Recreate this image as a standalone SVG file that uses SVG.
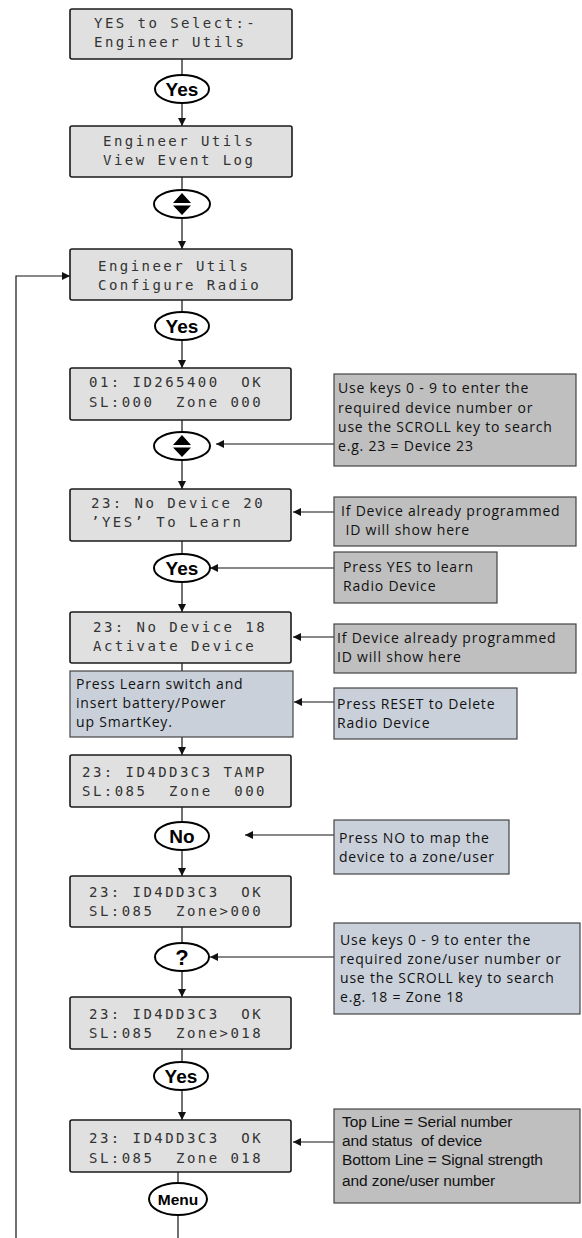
<svg xmlns="http://www.w3.org/2000/svg" width="582" height="1238" viewBox="0 0 582 1238" xml:space="preserve">
<defs>
<marker id="ah" viewBox="0 0 8 8" refX="8" refY="4" markerWidth="8" markerHeight="8" markerUnits="userSpaceOnUse" orient="auto"><path d="M0,0 L8,4 L0,8 z" fill="#111"/></marker>
<style>
text{white-space:pre}
.lcd{fill:#e0e0e0;stroke:#1a1a1a;stroke-width:1.6}
.lt{font-family:"DejaVu Sans Mono","Liberation Mono",monospace;font-size:14px;letter-spacing:2.45px;fill:#333}
.btn{fill:#fff;stroke:#000;stroke-width:2}
.bt{font-family:"Liberation Sans",Arial,sans-serif;font-weight:bold;font-size:19px;fill:#000;text-anchor:middle}
.ng{fill:#bfbfbf;stroke:#444;stroke-width:1.2}
.nb{fill:#c9d0da;stroke:#444;stroke-width:1.2}
.nt{font-family:"Open Sans","Noto Sans",sans-serif;font-size:14px;letter-spacing:0.8px;fill:#111}
.na{font-family:"Liberation Sans",Arial,sans-serif;font-size:15.5px;letter-spacing:-0.1px;fill:#111}
.c{fill:none;stroke:#111;stroke-width:1.2}
</style>
</defs>
<g id="connectors">
<line class="c" x1="182" y1="59" x2="182" y2="75"/>
<line class="c" x1="182" y1="103" x2="182" y2="126" marker-end="url(#ah)"/>
<line class="c" x1="182" y1="177" x2="182" y2="190"/>
<line class="c" x1="182" y1="218" x2="182" y2="249" marker-end="url(#ah)"/>
<line class="c" x1="182" y1="300" x2="182" y2="312"/>
<line class="c" x1="182" y1="340" x2="182" y2="368" marker-end="url(#ah)"/>
<line class="c" x1="182" y1="420" x2="182" y2="432"/>
<line class="c" x1="182" y1="460" x2="182" y2="489" marker-end="url(#ah)"/>
<line class="c" x1="182" y1="541" x2="182" y2="554"/>
<line class="c" x1="182" y1="582" x2="182" y2="612" marker-end="url(#ah)"/>
<line class="c" x1="182" y1="663" x2="182" y2="671"/>
<line class="c" x1="182" y1="737" x2="182" y2="755" marker-end="url(#ah)"/>
<line class="c" x1="182" y1="807" x2="182" y2="822"/>
<line class="c" x1="182" y1="850" x2="182" y2="876" marker-end="url(#ah)"/>
<line class="c" x1="182" y1="927" x2="182" y2="943"/>
<line class="c" x1="182" y1="971" x2="182" y2="997" marker-end="url(#ah)"/>
<line class="c" x1="182" y1="1049" x2="182" y2="1062"/>
<line class="c" x1="182" y1="1090" x2="182" y2="1120" marker-end="url(#ah)"/>
<line class="c" x1="178" y1="1172" x2="178" y2="1183"/>
<line class="c" x1="178" y1="1215" x2="178" y2="1238"/>
<polyline class="c" points="16,1238 16,276 70,276" marker-end="url(#ah)"/>
<line class="c" x1="334" y1="444" x2="216" y2="444" marker-end="url(#ah)"/>
<line class="c" x1="334" y1="512" x2="293" y2="512" marker-end="url(#ah)"/>
<line class="c" x1="334" y1="568" x2="210" y2="568" marker-end="url(#ah)"/>
<line class="c" x1="334" y1="637" x2="293" y2="637" marker-end="url(#ah)"/>
<line class="c" x1="334" y1="702" x2="294" y2="702" marker-end="url(#ah)"/>
<line class="c" x1="334" y1="835" x2="245" y2="835" marker-end="url(#ah)"/>
<line class="c" x1="334" y1="957" x2="210" y2="957" marker-end="url(#ah)"/>
<line class="c" x1="334" y1="1142" x2="293" y2="1142" marker-end="url(#ah)"/>
</g>
<g id="lcd1"><rect class="lcd" x="70" y="9" width="222" height="50" rx="2"/><text class="lt" x="94" y="28">YES to Select:-</text><text class="lt" x="94" y="47">Engineer Utils</text></g>
<g id="btn1"><ellipse class="btn" cx="182" cy="89" rx="27" ry="14"/><text class="bt" x="182" y="96">Yes</text></g>
<g id="lcd2"><rect class="lcd" x="70" y="126" width="222" height="51" rx="2"/><text class="lt" x="103" y="146">Engineer Utils</text><text class="lt" x="103" y="165">View Event Log</text></g>
<g id="scroll1"><ellipse class="btn" cx="182" cy="204" rx="28" ry="14"/><path d="M173,203 L191,203 L182,193 z M173,205.5 L191,205.5 L182,215 z" fill="#000"/></g>
<g id="lcd3"><rect class="lcd" x="70" y="249" width="222" height="51" rx="2"/><text class="lt" x="98" y="271">Engineer Utils</text><text class="lt" x="98" y="290">Configure Radio</text></g>
<g id="btn2"><ellipse class="btn" cx="182" cy="326" rx="27" ry="14"/><text class="bt" x="182" y="333">Yes</text></g>
<g id="lcd4"><rect class="lcd" x="70" y="368" width="221" height="52" rx="2"/><text class="lt" x="89" y="387">01: ID265400  OK</text><text class="lt" x="89" y="407">SL:000  Zone 000</text></g>
<g id="scroll2"><ellipse class="btn" cx="182" cy="446" rx="28" ry="14"/><path d="M173,445 L191,445 L182,435 z M173,447.5 L191,447.5 L182,457 z" fill="#000"/></g>
<g id="note1"><rect class="ng" x="334" y="374" width="242" height="92"/><text class="nt" x="338" y="393">Use keys 0 - 9 to enter the</text><text class="nt" x="338" y="413">required device number or</text><text class="nt" x="338" y="432">use the SCROLL key to search</text><text class="nt" x="338" y="451">e.g. 23 = Device 23</text></g>
<g id="lcd5"><rect class="lcd" x="70" y="489" width="221" height="52" rx="2"/><text class="lt" x="91" y="508">23: No Device 20</text><text class="lt" x="91" y="527">’YES’ To Learn</text></g>
<g id="note2"><rect class="ng" x="334" y="497" width="242" height="49"/><text class="nt" x="341" y="516" letter-spacing="0">If Device already programmed</text><text class="nt" x="341" y="535" letter-spacing="0"> ID will show here</text></g>
<g id="btn3"><ellipse class="btn" cx="182" cy="568" rx="28" ry="14"/><text class="bt" x="182" y="575">Yes</text></g>
<g id="note3"><rect class="ng" x="334" y="552" width="163" height="51"/><text class="nt" x="343" y="572">Press YES to learn</text><text class="nt" x="343" y="591">Radio Device</text></g>
<g id="lcd6"><rect class="lcd" x="70" y="612" width="221" height="51" rx="2"/><text class="lt" x="93" y="632">23: No Device 18</text><text class="lt" x="93" y="651">Activate Device</text></g>
<g id="note4"><rect class="ng" x="334" y="624" width="242" height="49"/><text class="nt" x="337" y="643">If Device already programmed</text><text class="nt" x="337" y="662">ID will show here</text></g>
<g id="learn"><rect class="nb" x="70" y="671" width="223" height="66"/><text class="nt" x="76" y="689">Press Learn switch and</text><text class="nt" x="76" y="708">insert battery/Power</text><text class="nt" x="76" y="727">up SmartKey.</text></g>
<g id="note5"><rect class="nb" x="334" y="688" width="183" height="51"/><text class="nt" x="337" y="709">Press RESET to Delete</text><text class="nt" x="337" y="728">Radio Device</text></g>
<g id="lcd7"><rect class="lcd" x="70" y="755" width="221" height="52" rx="2"/><text class="lt" x="82" y="777">23: ID4DD3C3 TAMP</text><text class="lt" x="82" y="796">SL:085  Zone  000</text></g>
<g id="btnNo"><ellipse class="btn" cx="182" cy="836" rx="27" ry="14"/><text class="bt" x="182" y="843">No</text></g>
<g id="note6"><rect class="nb" x="334" y="820" width="175" height="54"/><text class="nt" x="339" y="843">Press NO to map the</text><text class="nt" x="339" y="862">device to a zone/user</text></g>
<g id="lcd8"><rect class="lcd" x="70" y="876" width="221" height="51" rx="2"/><text class="lt" x="89" y="897">23: ID4DD3C3  OK</text><text class="lt" x="89" y="916">SL:085  Zone&gt;000</text></g>
<g id="btnQ"><ellipse class="btn" cx="182" cy="957" rx="27" ry="14"/><text class="bt" x="182" y="965" style="font-size:22px">?</text></g>
<g id="note7"><rect class="nb" x="334" y="923" width="246" height="91"/><text class="nt" x="340" y="945">Use keys 0 - 9 to enter the</text><text class="nt" x="340" y="964">required zone/user number or</text><text class="nt" x="340" y="983">use the SCROLL key to search</text><text class="nt" x="340" y="1002">e.g. 18 = Zone 18</text></g>
<g id="lcd9"><rect class="lcd" x="70" y="997" width="221" height="52" rx="2"/><text class="lt" x="89" y="1019">23: ID4DD3C3  OK</text><text class="lt" x="89" y="1038">SL:085  Zone&gt;018</text></g>
<g id="btn4"><ellipse class="btn" cx="181" cy="1076" rx="27" ry="14"/><text class="bt" x="181" y="1083">Yes</text></g>
<g id="lcd10"><rect class="lcd" x="70" y="1120" width="221" height="52" rx="2"/><text class="lt" x="89" y="1143">23: ID4DD3C3  OK</text><text class="lt" x="89" y="1163">SL:085  Zone 018</text></g>
<g id="note8"><rect class="ng" x="334" y="1109" width="246" height="94"/><text class="na" x="342" y="1127">Top Line = Serial number</text><text class="na" x="342" y="1146">and status  of device</text><text class="na" x="342" y="1165">Bottom Line = Signal strength</text><text class="na" x="342" y="1186">and zone/user number</text></g>
<g id="btnMenu"><ellipse class="btn" cx="178" cy="1199" rx="29" ry="16"/><text class="bt" x="178" y="1205" style="font-size:15.5px">Menu</text></g>
</svg>
